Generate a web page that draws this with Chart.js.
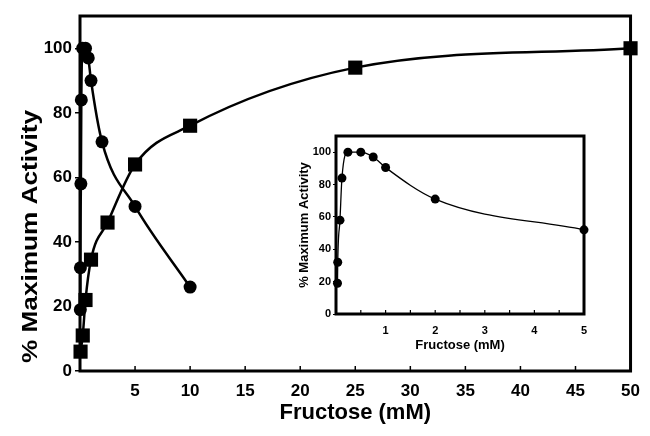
<!DOCTYPE html>
<html>
<head>
<meta charset="utf-8">
<script src="https://cdn.jsdelivr.net/npm/chart.js@4/dist/chart.umd.min.js"></script>
<style>
  html, body { margin: 0; padding: 0; background: #fff; }
  .wrap { position: relative; width: 650px; height: 436px; }
  #mainChart  { position: absolute; left: 0; top: 0; }
  #insetChart { position: absolute; left: 280px; top: 125px; }
</style>
</head>
<body>
<div class="wrap">
  <canvas id="mainChart" width="650" height="436"></canvas>
  <canvas id="insetChart" width="320" height="240"></canvas>
</div>
<script>
// circles: inhibition at high fructose, squares: saturation curve
const CIRCLE_X = [0.03, 0.035, 0.08, 0.12, 0.24, 0.5, 0.75, 1, 2, 5, 10];
const CIRCLE_Y = [19, 32, 58, 84, 100, 100, 97, 90, 71, 51, 26];
const SQUARE_X = [0.05, 0.25, 0.5, 1, 2.5, 5, 10, 25, 50];
const SQUARE_Y = [6, 11, 22, 34.5, 46, 64, 76, 94, 100];

// inset shows the circle series up to 5 mM
const INSET_X = CIRCLE_X.slice(0, 10);
const INSET_Y = [19, 32, 58, 84, 100, 100, 97, 90.5, 71, 52];

const MAIN_X_TICKS  = [5, 10, 15, 20, 25, 30, 35, 40, 45, 50];
const MAIN_Y_TICKS  = [0, 20, 40, 60, 80, 100];
const INSET_X_TICKS = [0.5, 1, 1.5, 2, 2.5, 3, 3.5, 4, 4.5, 5];
const INSET_Y_TICKS = [0, 20, 40, 60, 80, 100];

const X_TITLE = 'Fructose (mM)';
const Y_TITLE = '% Maximum Activity';
const FONT = "'Liberation Sans', Arial, sans-serif";

const toPoints = (xs, ys) => xs.map((x, i) => ({ x, y: ys[i] }));
const fixTicks = (vals) => (scale) => { scale.ticks = vals.map(v => ({ value: v })); };

// frame round the plot area, x ticks pointing inward
const framePlugin = {
  id: 'frame',
  beforeDatasetsDraw(chart, args, opts) {
    const { ctx, chartArea: a, scales: { x } } = chart;
    ctx.save();
    ctx.strokeStyle = '#000';
    ctx.lineWidth = opts.width;
    ctx.strokeRect(a.left, a.top, a.right - a.left, a.bottom - a.top);
    ctx.lineWidth = opts.tickWidth;
    x.ticks.forEach(t => {
      const px = x.getPixelForValue(t.value);
      ctx.beginPath();
      ctx.moveTo(px, a.bottom);
      ctx.lineTo(px, a.bottom - opts.tickLen);
      ctx.stroke();
    });
    ctx.restore();
  },
};

// main y title: drawn from the bottom up and stretched like the original print
const sideTitlePlugin = {
  id: 'sideTitle',
  afterDraw(chart, args, opts) {
    const { ctx, chartArea: a } = chart;
    ctx.save();
    ctx.translate(opts.x, a.bottom - opts.inset);
    ctx.rotate(-Math.PI / 2);
    ctx.scale(opts.stretch, 1);
    ctx.font = `bold ${opts.size}px ${FONT}`;
    ctx.fillStyle = '#000';
    ctx.textAlign = 'left';
    ctx.textBaseline = 'middle';
    ctx.fillText(opts.text, 0, 0);
    ctx.restore();
  },
};

function lineSet(data, style, radius, width) {
  return {
    data,
    borderColor:            '#000',
    backgroundColor:        '#000',
    borderWidth:            width,
    pointStyle:             style,
    pointRadius:            radius,
    pointBackgroundColor:   '#000',
    pointBorderWidth:       0,
    cubicInterpolationMode: 'monotone',
    clip:                   false,
  };
}

new Chart(document.getElementById('mainChart'), {
  type: 'line',
  data: {
    datasets: [
      lineSet(toPoints(CIRCLE_X, CIRCLE_Y), 'circle', 6.5, 2.5),
      lineSet(toPoints(SQUARE_X, SQUARE_Y), 'rect', 10, 2.5),
    ],
  },
  plugins: [framePlugin, sideTitlePlugin],
  options: {
    responsive: false,
    animation:  false,
    layout: { padding: { top: 16, right: 12, left: 0, bottom: 0 } },
    plugins: {
      legend:    { display: false },
      tooltip:   { enabled: false },
      frame:     { width: 3, tickWidth: 1.5, tickLen: 5 },
      sideTitle: { text: Y_TITLE, x: 31, inset: 8, size: 22, stretch: 1.19 },
    },
    scales: {
      x: {
        type: 'linear', min: 0, max: 50,
        afterBuildTicks: fixTicks(MAIN_X_TICKS),
        afterFit: (s) => { s.height = 65; },
        grid:   { display: false, drawTicks: false },
        border: { display: false },
        ticks:  { color: '#000', padding: 10, maxRotation: 0, font: { family: FONT, size: 17, weight: 'bold' } },
        title:  { display: true, text: X_TITLE, color: '#000', padding: { bottom: 10 },
                  font: { family: FONT, size: 22, weight: 'bold' } },
      },
      y: {
        type: 'linear', min: 0, max: 110,
        afterBuildTicks: fixTicks(MAIN_Y_TICKS),
        afterFit: (s) => { s.width = 80; },
        grid:   { drawOnChartArea: false, drawTicks: true, tickLength: 5, color: '#000', lineWidth: 1.5 },
        border: { display: false },
        ticks:  { color: '#000', padding: 3, font: { family: FONT, size: 17, weight: 'bold' } },
        title:  { display: false },
      },
    },
  },
});

new Chart(document.getElementById('insetChart'), {
  type: 'line',
  data: {
    datasets: [lineSet(toPoints(INSET_X, INSET_Y), 'circle', 4.5, 1.3)],
  },
  plugins: [framePlugin],
  options: {
    responsive: false,
    animation:  false,
    layout: { padding: { top: 11, right: 16, left: 0, bottom: 0 } },
    plugins: {
      legend:  { display: false },
      tooltip: { enabled: false },
      frame:   { width: 3, tickWidth: 1.2, tickLen: 4 },
    },
    scales: {
      x: {
        type: 'linear', min: 0, max: 5,
        afterBuildTicks: fixTicks(INSET_X_TICKS),
        afterFit: (s) => { s.height = 51; },
        grid:   { display: false },
        border: { display: false },
        ticks:  { color: '#000', padding: 2, maxRotation: 0, autoSkip: false,
                  callback: (v) => (Number.isInteger(v) ? String(v) : ''),
                  font: { family: FONT, size: 11, weight: 'bold' } },
        title:  { display: true, text: X_TITLE, color: '#000', padding: { bottom: 12 },
                  font: { family: FONT, size: 13, weight: 'bold' } },
      },
      y: {
        type: 'linear', min: 0, max: 110,
        afterBuildTicks: fixTicks(INSET_Y_TICKS),
        afterFit: (s) => { s.width = 56; },
        grid:   { drawOnChartArea: false, drawTicks: true, tickLength: 3, color: '#000', lineWidth: 1 },
        border: { display: false },
        ticks:  { color: '#000', padding: 2, font: { family: FONT, size: 11, weight: 'bold' } },
        title:  { display: true, text: Y_TITLE, color: '#000', padding: { top: 17 },
                  font: { family: FONT, size: 13, weight: 'bold' } },
      },
    },
  },
});
</script>
</body>
</html>
